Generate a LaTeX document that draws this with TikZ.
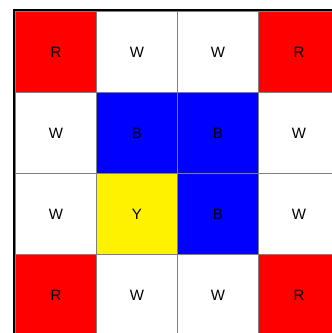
\documentclass[tikz,border=0pt]{standalone}
\usepackage{fontspec}
\setmainfont{Liberation Sans}
\usetikzlibrary{positioning}

\begin{document}
\begin{tikzpicture}[x=1pt, y=-1pt,
    cell/.style={draw=gray, line width=1pt, minimum size=81pt, inner sep=0pt,
      anchor=north west, font=\fontsize{15}{18}\selectfont},
    frame/.style={draw=black, line width=2pt}]
    \useasboundingbox (0,0) rectangle (332,333);
    \begin{scope}
        \clip (0,0) rectangle (332,333);
        % 4x4 board, row by row
        \foreach \lab/\col [count=\i from 0] in {R/red,W/white,W/white,R/red,
                W/white,B/blue,B/blue,W/white,
                W/white,Y/yellow,B/blue,W/white,
                R/red,W/white,W/white,R/red} {
            \pgfmathtruncatemacro\r{\i/4}
            \pgfmathtruncatemacro\c{mod(\i,4)}
            \node[cell, fill=\col] (cell-\r-\c) at (15+81*\c, 11+81*\r) {\lab};
        }
        % outer frame
        \draw[frame] ([xshift=-1.5pt, yshift=1.5pt]cell-0-0.north west) rectangle ([xshift=1.5pt, yshift=-1.5pt]cell-3-3.south east);
    \end{scope}
\end{tikzpicture}
\end{document}
